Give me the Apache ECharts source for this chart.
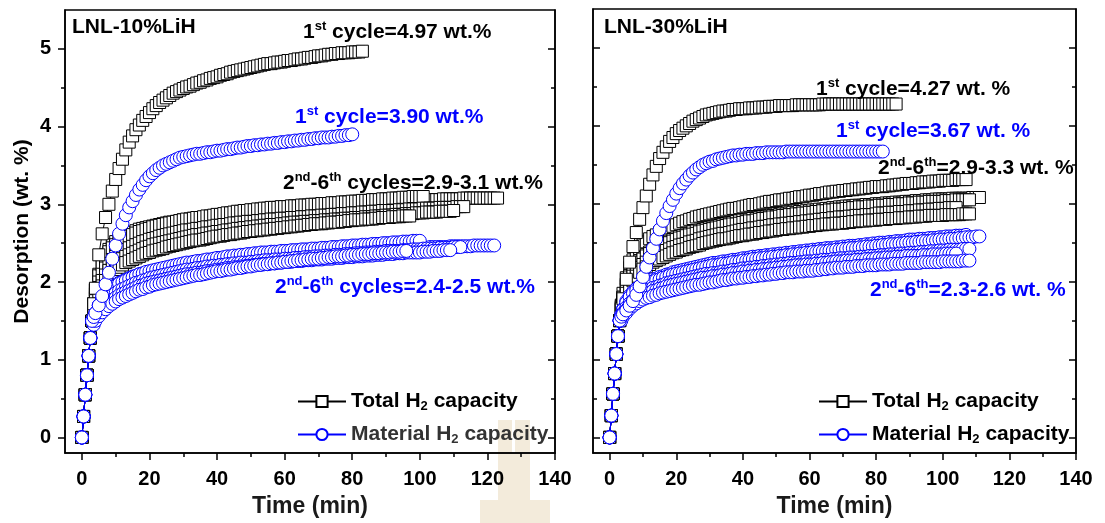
<!DOCTYPE html>
<html><head><meta charset="utf-8">
<script src="https://cdn.jsdelivr.net/npm/echarts@6/dist/echarts.min.js"></script>
<style>html,body{margin:0;padding:0;background:#fff}#c{width:1105px;height:523px}</style>
</head><body><div id="c"></div>
<script>
// sampling times (min): early part shared by all curves of a panel, then each curve's own values
const T_EARLY = [0,0.5,1,1.5,2,2.5,3];
const T_TAIL = [3.5,4,5,6,7,8,9,10,11,12,13,14,15,16,17,18,19,20,21,22,23,24,25,26,27,28,29,30,31,32,33,34,35,36,37,38,39,40,41,42,43,44,45,46,47,48,49,50,51,52,53,54,55,56,57,58,59,60,61,62,63,64,65,66,67,68,69,70,71,72,73,74,75,76,77,78,79,80,81,82,83,84,85,86,87,88,89,90,91,92,93,94,95,96,97,98,99,100,101,102,103,104,105,106,107,108,109,110,111,112,113,114,115,116,117,118,119,120,121,122];
const X_TICKS = [0,20,40,60,80,100,120,140];
const X_MINOR = [10,30,50,70,90,110,130];
const Y_TICKS = [0,1,2,3,4,5];
const Y_MINOR = [0.5,1.5,2.5,3.5,4.5];

// ---------- LNL-10%LiH ----------
const earlyL = [0,0.27,0.55,0.8,1.05,1.28,1.5];
const L_tot1 = [1.72,1.92,2.35,2.62,2.83,3.0,3.17,3.32,3.46,3.58,3.7,3.8,3.88,3.96,4.02,4.08,4.13,4.18,4.23,4.27,4.31,4.34,4.37,4.4,4.43,4.45,4.47,4.49,4.51,4.52,4.54,4.56,4.57,4.59,4.6,4.62,4.63,4.64,4.66,4.67,4.68,4.7,4.71,4.72,4.73,4.74,4.75,4.76,4.77,4.78,4.79,4.8,4.81,4.81,4.82,4.83,4.83,4.84,4.85,4.85,4.86,4.87,4.87,4.88,4.89,4.89,4.9,4.91,4.91,4.92,4.93,4.93,4.94,4.94,4.95,4.95,4.95,4.96,4.96,4.96];
const L_tot1_end = [83,4.97];
const L_mat1 = [1.55,1.6,1.7,1.82,1.97,2.12,2.3,2.47,2.62,2.75,2.86,2.96,3.04,3.12,3.19,3.25,3.31,3.36,3.4,3.44,3.47,3.5,3.52,3.54,3.56,3.58,3.6,3.61,3.62,3.63,3.64,3.65,3.65,3.66,3.67,3.67,3.68,3.69,3.69,3.7,3.71,3.71,3.72,3.73,3.73,3.74,3.75,3.75,3.76,3.76,3.77,3.77,3.78,3.78,3.79,3.79,3.8,3.8,3.81,3.81,3.82,3.82,3.83,3.83,3.84,3.84,3.85,3.85,3.86,3.86,3.86,3.87,3.87,3.88,3.88,3.89,3.89];
const L_mat1_end = [80,3.90];
const L_totA = [1.72,1.9,2.1,2.25,2.35,2.42,2.48,2.52,2.55,2.58,2.6,2.62,2.64,2.66,2.68,2.69,2.7,2.71,2.72,2.73,2.74,2.75,2.76,2.77,2.77,2.78,2.79,2.8,2.8,2.81,2.82,2.82,2.83,2.83,2.84,2.84,2.85,2.85,2.86,2.86,2.86,2.87,2.87,2.87,2.88,2.88,2.89,2.89,2.9,2.9,2.9,2.91,2.91,2.91,2.92,2.92,2.92,2.93,2.93,2.93,2.94,2.94,2.94,2.95,2.95,2.95,2.96,2.96,2.96,2.97,2.97,2.97,2.98,2.98,2.98,2.99,2.99,2.99,3.0,3.0,3.0,3.01,3.01,3.01,3.02,3.02,3.02,3.03,3.03,3.03,3.04,3.04,3.04,3.05,3.05,3.05,3.05,3.05,3.06,3.06,3.06,3.06,3.06,3.06,3.07,3.07,3.07,3.07,3.07,3.07,3.08,3.08,3.08,3.08,3.08,3.08,3.08,3.08,3.08,3.08];
const L_totA_end = [123,3.08];
const L_totB = [1.72,1.9,2.08,2.22,2.32,2.39,2.44,2.48,2.51,2.54,2.57,2.59,2.61,2.63,2.65,2.66,2.68,2.69,2.71,2.72,2.73,2.74,2.75,2.76,2.77,2.78,2.79,2.8,2.81,2.81,2.82,2.83,2.83,2.84,2.85,2.85,2.86,2.87,2.87,2.88,2.89,2.89,2.9,2.91,2.91,2.92,2.92,2.93,2.93,2.94,2.94,2.95,2.95,2.96,2.96,2.96,2.97,2.97,2.97,2.98,2.98,2.98,2.99,2.99,2.99,3.0,3.0,3.0,3.01,3.01,3.01,3.02,3.02,3.02,3.03,3.03,3.03,3.04,3.04,3.04,3.05,3.05,3.05,3.06,3.06,3.06,3.07,3.07,3.07,3.08,3.08,3.08,3.09,3.09,3.09,3.1,3.1,3.1];
const L_totB_end = [101,3.10];
const L_totC = [1.7,1.85,2.0,2.1,2.18,2.24,2.29,2.33,2.36,2.39,2.42,2.44,2.46,2.48,2.5,2.52,2.53,2.55,2.56,2.57,2.59,2.6,2.61,2.62,2.63,2.64,2.65,2.66,2.67,2.67,2.68,2.69,2.69,2.7,2.71,2.71,2.72,2.73,2.73,2.74,2.74,2.75,2.76,2.76,2.77,2.77,2.78,2.78,2.78,2.79,2.79,2.8,2.8,2.81,2.81,2.81,2.82,2.82,2.82,2.83,2.83,2.83,2.84,2.84,2.84,2.85,2.85,2.85,2.86,2.86,2.86,2.87,2.87,2.87,2.88,2.88,2.88,2.89,2.89,2.89,2.9,2.9,2.9,2.91,2.91,2.91,2.92,2.92,2.92,2.92,2.92,2.93,2.93,2.93,2.94,2.94,2.94,2.94,2.95,2.95,2.95,2.95,2.95,2.96,2.96,2.96,2.96,2.96,2.97,2.97];
const L_totC_end = [113,2.97];
const L_totD = [1.68,1.8,1.93,2.02,2.09,2.15,2.2,2.24,2.27,2.3,2.33,2.35,2.37,2.39,2.41,2.43,2.45,2.46,2.48,2.49,2.5,2.51,2.52,2.53,2.54,2.55,2.56,2.57,2.58,2.59,2.6,2.61,2.61,2.62,2.63,2.63,2.64,2.65,2.65,2.66,2.67,2.67,2.68,2.69,2.69,2.7,2.7,2.71,2.71,2.72,2.72,2.73,2.73,2.74,2.74,2.74,2.75,2.75,2.76,2.76,2.77,2.77,2.77,2.78,2.78,2.78,2.79,2.79,2.79,2.8,2.8,2.8,2.81,2.81,2.81,2.82,2.82,2.82,2.83,2.83,2.83,2.84,2.84,2.84,2.85,2.85,2.85,2.86,2.86,2.86,2.87,2.87,2.87,2.88,2.88,2.88,2.89,2.89,2.89,2.9,2.9,2.9,2.9,2.91,2.91,2.91,2.91];
const L_totD_end = [110,2.92];
const L_totE = [1.65,1.76,1.87,1.95,2.02,2.07,2.12,2.16,2.19,2.22,2.25,2.27,2.29,2.31,2.33,2.35,2.37,2.38,2.4,2.41,2.42,2.43,2.45,2.46,2.47,2.48,2.49,2.5,2.51,2.52,2.53,2.54,2.54,2.55,2.56,2.57,2.58,2.59,2.59,2.6,2.61,2.61,2.62,2.63,2.63,2.64,2.65,2.65,2.66,2.66,2.67,2.67,2.68,2.68,2.69,2.69,2.7,2.7,2.71,2.71,2.72,2.72,2.73,2.73,2.74,2.74,2.75,2.75,2.75,2.76,2.76,2.77,2.77,2.77,2.78,2.78,2.79,2.79,2.8,2.8,2.8,2.81,2.81,2.81,2.82,2.82,2.83,2.83,2.83,2.84,2.84,2.84,2.85,2.85];
const L_totE_end = [97,2.85];
const L_matA = [1.52,1.6,1.7,1.78,1.84,1.89,1.93,1.96,1.99,2.01,2.03,2.05,2.07,2.08,2.1,2.11,2.12,2.13,2.14,2.15,2.16,2.17,2.18,2.19,2.19,2.2,2.2,2.21,2.22,2.22,2.23,2.23,2.24,2.25,2.25,2.26,2.26,2.26,2.27,2.27,2.27,2.28,2.28,2.28,2.29,2.29,2.29,2.3,2.3,2.3,2.31,2.31,2.31,2.32,2.32,2.32,2.33,2.33,2.33,2.34,2.34,2.34,2.35,2.35,2.35,2.36,2.36,2.36,2.37,2.37,2.37,2.38,2.38,2.38,2.38,2.38,2.39,2.39,2.39,2.4,2.4,2.4,2.41,2.41,2.41,2.42,2.42,2.42,2.42,2.42,2.42,2.43,2.43,2.43,2.44,2.44,2.44,2.44,2.44,2.44,2.45,2.45,2.45,2.45,2.45,2.45,2.46,2.46,2.46,2.46,2.46,2.46,2.46,2.47,2.47,2.47,2.47,2.47,2.47];
const L_matA_end = [122,2.47];
const L_matB = [1.52,1.6,1.7,1.77,1.83,1.88,1.92,1.95,1.98,2.0,2.02,2.04,2.06,2.08,2.1,2.11,2.13,2.14,2.15,2.16,2.17,2.18,2.19,2.2,2.21,2.22,2.23,2.24,2.25,2.25,2.26,2.27,2.27,2.28,2.29,2.29,2.3,2.31,2.31,2.32,2.33,2.33,2.34,2.34,2.35,2.35,2.36,2.36,2.37,2.37,2.38,2.38,2.38,2.39,2.39,2.39,2.4,2.4,2.4,2.41,2.41,2.41,2.42,2.42,2.42,2.43,2.43,2.43,2.44,2.44,2.44,2.45,2.45,2.45,2.46,2.46,2.46,2.47,2.47,2.47,2.48,2.48,2.48,2.49,2.49,2.49,2.5,2.5,2.5,2.51,2.51,2.51,2.52,2.52,2.52,2.53,2.53];
const L_matB_end = [100,2.53];
const L_matC = [1.5,1.56,1.64,1.7,1.75,1.79,1.83,1.86,1.89,1.91,1.93,1.95,1.97,1.99,2.0,2.02,2.03,2.05,2.06,2.07,2.08,2.09,2.1,2.11,2.12,2.13,2.14,2.15,2.16,2.16,2.17,2.18,2.18,2.19,2.2,2.2,2.21,2.21,2.22,2.22,2.23,2.23,2.24,2.24,2.25,2.25,2.25,2.26,2.26,2.27,2.27,2.28,2.28,2.28,2.29,2.29,2.29,2.3,2.3,2.3,2.31,2.31,2.31,2.32,2.32,2.32,2.33,2.33,2.33,2.34,2.34,2.34,2.35,2.35,2.35,2.36,2.36,2.36,2.37,2.37,2.37,2.38,2.38,2.38,2.39,2.39,2.39,2.4,2.4,2.4,2.4,2.4,2.41,2.41,2.41,2.42,2.42,2.42,2.43,2.43,2.43,2.43,2.43,2.44,2.44,2.44,2.44,2.45,2.45];
const L_matC_end = [112,2.45];
const L_matD = [1.48,1.53,1.6,1.65,1.7,1.74,1.77,1.8,1.83,1.85,1.87,1.89,1.91,1.93,1.95,1.96,1.98,1.99,2.0,2.01,2.02,2.03,2.04,2.05,2.06,2.07,2.08,2.09,2.1,2.1,2.11,2.12,2.12,2.13,2.14,2.14,2.15,2.16,2.16,2.17,2.18,2.18,2.19,2.19,2.2,2.2,2.21,2.21,2.22,2.22,2.23,2.23,2.23,2.24,2.24,2.25,2.25,2.26,2.26,2.26,2.27,2.27,2.27,2.28,2.28,2.28,2.29,2.29,2.29,2.3,2.3,2.3,2.31,2.31,2.31,2.32,2.32,2.32,2.33,2.33,2.33,2.34,2.34,2.34,2.35,2.35,2.35,2.36,2.36,2.36,2.37,2.37,2.37,2.38,2.38,2.38,2.38,2.38,2.39,2.39,2.39,2.4,2.4,2.4,2.41,2.41];
const L_matD_end = [109,2.41];
const L_matE = [1.45,1.5,1.56,1.61,1.65,1.69,1.72,1.75,1.78,1.8,1.82,1.84,1.86,1.88,1.9,1.91,1.93,1.94,1.96,1.97,1.98,1.99,2.0,2.01,2.02,2.03,2.04,2.05,2.06,2.07,2.08,2.09,2.09,2.1,2.11,2.12,2.13,2.14,2.14,2.15,2.16,2.16,2.17,2.18,2.18,2.19,2.2,2.2,2.21,2.22,2.22,2.23,2.23,2.24,2.24,2.25,2.25,2.26,2.26,2.27,2.27,2.28,2.28,2.29,2.29,2.3,2.3,2.3,2.31,2.31,2.32,2.32,2.33,2.33,2.33,2.34,2.34,2.35,2.35,2.35,2.36,2.36,2.36,2.37,2.37,2.37,2.38,2.38,2.38,2.39,2.39,2.39,2.4];
const L_matE_end = [96,2.40];

// ---------- LNL-30%LiH ----------
const earlyR = [0,0.28,0.56,0.82,1.07,1.3,1.5];
const R_tot1 = [1.65,1.78,2.03,2.25,2.45,2.63,2.8,2.95,3.1,3.25,3.37,3.48,3.58,3.66,3.73,3.8,3.85,3.9,3.94,3.97,4.0,4.03,4.06,4.08,4.1,4.12,4.14,4.15,4.16,4.17,4.18,4.19,4.19,4.2,4.21,4.21,4.22,4.22,4.22,4.23,4.23,4.23,4.24,4.24,4.24,4.25,4.25,4.25,4.26,4.26,4.26,4.26,4.26,4.27,4.27,4.27,4.27,4.27,4.27,4.27,4.27,4.28,4.28,4.28,4.28,4.28,4.28,4.28,4.28,4.28,4.28,4.28,4.28,4.28,4.28,4.28,4.28,4.28,4.28,4.28,4.28,4.28,4.28];
const R_tot1_end = [86,4.28];
const R_mat1 = [1.55,1.58,1.63,1.69,1.75,1.83,1.94,2.06,2.19,2.31,2.43,2.55,2.67,2.78,2.88,2.97,3.05,3.13,3.2,3.26,3.31,3.36,3.4,3.44,3.47,3.5,3.52,3.54,3.55,3.57,3.58,3.59,3.6,3.61,3.62,3.62,3.63,3.63,3.64,3.64,3.64,3.65,3.65,3.65,3.66,3.66,3.66,3.66,3.66,3.66,3.67,3.67,3.67,3.67,3.67,3.67,3.67,3.67,3.67,3.67,3.67,3.67,3.67,3.67,3.67,3.67,3.67,3.67,3.67,3.67,3.67,3.67,3.67,3.67,3.67,3.67,3.67,3.67,3.67];
const R_mat1_end = [82,3.67];
const R_totP = [1.7,1.85,2.05,2.18,2.28,2.36,2.42,2.47,2.51,2.55,2.58,2.6,2.63,2.65,2.67,2.69,2.71,2.73,2.75,2.77,2.78,2.8,2.81,2.83,2.84,2.85,2.86,2.87,2.88,2.89,2.9,2.91,2.92,2.93,2.94,2.94,2.95,2.96,2.97,2.98,2.99,2.99,3.0,3.01,3.02,3.03,3.03,3.04,3.05,3.05,3.06,3.07,3.07,3.08,3.09,3.09,3.1,3.11,3.11,3.12,3.13,3.13,3.14,3.15,3.15,3.16,3.16,3.17,3.17,3.18,3.18,3.19,3.19,3.2,3.2,3.21,3.21,3.22,3.22,3.22,3.23,3.23,3.24,3.24,3.25,3.25,3.26,3.26,3.26,3.27,3.27,3.28,3.28,3.28,3.29,3.29,3.29,3.3,3.3,3.3,3.3,3.31,3.31,3.31];
const R_totP_end = [107,3.31];
const R_totQ = [1.68,1.8,1.97,2.08,2.16,2.22,2.27,2.31,2.35,2.38,2.41,2.43,2.46,2.48,2.5,2.52,2.54,2.56,2.58,2.59,2.61,2.62,2.64,2.65,2.66,2.67,2.68,2.69,2.7,2.71,2.72,2.73,2.74,2.75,2.76,2.77,2.78,2.79,2.79,2.8,2.81,2.81,2.82,2.83,2.83,2.84,2.85,2.85,2.86,2.87,2.87,2.88,2.89,2.89,2.9,2.9,2.91,2.91,2.92,2.92,2.93,2.93,2.94,2.94,2.95,2.95,2.96,2.96,2.97,2.97,2.97,2.98,2.98,2.98,2.99,2.99,2.99,3.0,3.0,3.0,3.01,3.01,3.01,3.02,3.02,3.02,3.03,3.03,3.03,3.04,3.04,3.04,3.05,3.05,3.05,3.06,3.06,3.06,3.06,3.06,3.07,3.07,3.07,3.07,3.07,3.07,3.08,3.08];
const R_totQ_end = [111,3.08];
const R_totR = [1.68,1.8,1.95,2.06,2.14,2.2,2.25,2.29,2.33,2.36,2.39,2.41,2.44,2.46,2.48,2.5,2.52,2.54,2.56,2.57,2.59,2.6,2.61,2.62,2.64,2.65,2.66,2.67,2.68,2.69,2.7,2.71,2.72,2.73,2.74,2.74,2.75,2.76,2.77,2.78,2.78,2.79,2.8,2.81,2.81,2.82,2.83,2.83,2.84,2.85,2.85,2.86,2.86,2.87,2.87,2.88,2.88,2.89,2.89,2.9,2.9,2.91,2.91,2.92,2.92,2.93,2.93,2.93,2.94,2.94,2.95,2.95,2.96,2.96,2.96,2.97,2.97,2.97,2.98,2.98,2.98,2.99,2.99,2.99,3.0,3.0,3.0,3.01,3.01,3.01,3.02,3.02,3.02,3.03,3.03,3.03,3.03,3.03,3.04,3.04,3.04,3.05,3.05,3.05,3.05];
const R_totR_end = [108,3.05];
const R_totS = [1.66,1.76,1.9,2.0,2.07,2.13,2.18,2.22,2.25,2.28,2.31,2.33,2.36,2.38,2.4,2.42,2.44,2.45,2.47,2.48,2.49,2.51,2.52,2.53,2.55,2.56,2.57,2.58,2.59,2.6,2.61,2.62,2.62,2.63,2.64,2.65,2.66,2.67,2.67,2.68,2.69,2.69,2.7,2.71,2.71,2.72,2.73,2.73,2.74,2.74,2.75,2.75,2.76,2.76,2.77,2.77,2.78,2.78,2.79,2.79,2.8,2.8,2.81,2.81,2.82,2.82,2.83,2.83,2.83,2.84,2.84,2.85,2.85,2.85,2.86,2.86,2.86,2.87,2.88,2.88,2.88,2.89,2.89,2.89,2.9,2.9,2.9,2.91,2.91,2.91,2.92,2.92,2.92,2.93,2.93,2.93,2.94,2.94,2.94,2.95,2.95];
const R_totS_end = [104,2.95];
const R_totT = [1.64,1.73,1.85,1.94,2.01,2.07,2.12,2.16,2.19,2.22,2.25,2.27,2.29,2.31,2.33,2.35,2.37,2.38,2.4,2.41,2.42,2.44,2.45,2.46,2.47,2.49,2.5,2.51,2.52,2.53,2.54,2.55,2.55,2.56,2.57,2.58,2.59,2.59,2.6,2.61,2.61,2.62,2.63,2.63,2.64,2.65,2.65,2.66,2.67,2.67,2.68,2.68,2.69,2.69,2.7,2.7,2.71,2.71,2.72,2.72,2.73,2.73,2.74,2.74,2.74,2.75,2.75,2.75,2.76,2.76,2.77,2.77,2.78,2.78,2.78,2.79,2.79,2.79,2.8,2.8,2.8,2.81,2.81,2.81,2.82,2.82,2.82,2.83,2.83,2.83,2.84,2.84,2.84,2.85,2.85,2.85,2.85,2.85,2.86,2.86,2.86,2.86,2.86,2.87,2.87];
const R_totT_end = [108,2.87];
const R_matP = [1.58,1.65,1.75,1.82,1.87,1.91,1.94,1.97,1.99,2.01,2.03,2.04,2.06,2.07,2.09,2.1,2.12,2.13,2.14,2.15,2.16,2.17,2.18,2.19,2.2,2.21,2.22,2.23,2.24,2.24,2.25,2.26,2.26,2.27,2.28,2.28,2.29,2.3,2.3,2.31,2.32,2.32,2.33,2.33,2.34,2.34,2.35,2.35,2.36,2.36,2.37,2.37,2.38,2.38,2.39,2.39,2.4,2.4,2.41,2.41,2.42,2.42,2.43,2.43,2.43,2.44,2.44,2.45,2.45,2.46,2.46,2.46,2.47,2.47,2.48,2.48,2.49,2.49,2.5,2.5,2.5,2.51,2.51,2.52,2.52,2.52,2.53,2.54,2.54,2.54,2.55,2.55,2.55,2.56,2.56,2.56,2.57,2.57,2.58,2.58,2.58,2.59,2.59,2.59];
const R_matP_end = [107,2.60];
const R_matQ = [1.57,1.64,1.73,1.8,1.85,1.89,1.92,1.95,1.97,1.99,2.0,2.02,2.03,2.05,2.06,2.08,2.09,2.1,2.11,2.12,2.13,2.14,2.15,2.16,2.17,2.18,2.19,2.2,2.21,2.21,2.22,2.23,2.23,2.24,2.25,2.25,2.26,2.27,2.27,2.28,2.29,2.29,2.3,2.3,2.31,2.31,2.32,2.32,2.33,2.33,2.34,2.34,2.35,2.35,2.36,2.36,2.37,2.37,2.38,2.38,2.39,2.39,2.39,2.4,2.4,2.41,2.41,2.42,2.42,2.43,2.43,2.43,2.44,2.44,2.45,2.45,2.45,2.46,2.46,2.47,2.47,2.48,2.48,2.48,2.49,2.49,2.5,2.5,2.5,2.51,2.51,2.52,2.52,2.52,2.53,2.53,2.54,2.54,2.54,2.55,2.55,2.55,2.56,2.56,2.57,2.57,2.57,2.58];
const R_matQ_end = [111,2.58];
const R_matR = [1.55,1.6,1.67,1.72,1.76,1.8,1.83,1.86,1.88,1.9,1.92,1.93,1.95,1.96,1.98,1.99,2.0,2.01,2.02,2.03,2.04,2.05,2.06,2.07,2.08,2.09,2.1,2.1,2.11,2.11,2.12,2.13,2.13,2.14,2.15,2.15,2.16,2.17,2.17,2.18,2.18,2.19,2.19,2.2,2.2,2.21,2.21,2.22,2.22,2.23,2.23,2.24,2.24,2.24,2.25,2.25,2.26,2.26,2.26,2.27,2.27,2.28,2.28,2.28,2.29,2.29,2.3,2.3,2.3,2.31,2.31,2.31,2.32,2.32,2.32,2.33,2.33,2.33,2.34,2.34,2.34,2.35,2.35,2.35,2.36,2.36,2.36,2.37,2.37,2.37,2.38,2.38,2.38,2.39,2.39,2.39,2.4,2.4,2.4,2.41,2.41,2.41,2.41,2.42,2.42];
const R_matR_end = [108,2.42];
const R_matS = [1.53,1.58,1.64,1.69,1.73,1.76,1.79,1.82,1.84,1.86,1.88,1.89,1.91,1.92,1.94,1.95,1.96,1.97,1.98,1.99,2.0,2.01,2.02,2.03,2.04,2.05,2.05,2.06,2.07,2.07,2.08,2.09,2.09,2.1,2.11,2.11,2.12,2.13,2.13,2.14,2.14,2.15,2.15,2.16,2.16,2.17,2.17,2.18,2.18,2.19,2.19,2.2,2.2,2.21,2.21,2.21,2.22,2.22,2.22,2.23,2.23,2.24,2.24,2.25,2.25,2.26,2.26,2.26,2.27,2.27,2.27,2.28,2.28,2.28,2.29,2.29,2.29,2.3,2.3,2.3,2.31,2.31,2.31,2.32,2.32,2.32,2.33,2.33,2.33,2.33,2.33,2.34,2.34,2.34,2.35,2.35,2.35,2.35,2.36,2.36,2.36];
const R_matS_end = [104,2.36];
const R_matT = [1.5,1.55,1.6,1.65,1.69,1.72,1.75,1.77,1.79,1.8,1.82,1.83,1.85,1.86,1.87,1.88,1.89,1.9,1.91,1.92,1.93,1.94,1.95,1.96,1.96,1.97,1.98,1.99,1.99,2.0,2.01,2.02,2.02,2.03,2.04,2.04,2.05,2.05,2.06,2.06,2.07,2.07,2.08,2.08,2.09,2.09,2.1,2.1,2.11,2.11,2.12,2.12,2.12,2.13,2.13,2.13,2.14,2.14,2.14,2.15,2.15,2.16,2.16,2.17,2.17,2.18,2.18,2.18,2.19,2.19,2.19,2.2,2.2,2.2,2.21,2.21,2.21,2.21,2.22,2.22,2.22,2.22,2.23,2.23,2.23,2.23,2.24,2.24,2.24,2.24,2.24,2.25,2.25,2.25,2.25,2.25,2.25,2.26,2.26,2.26,2.26,2.26,2.26,2.27,2.27];
const R_matT_end = [108,2.27];

const TOTAL = 'Total H2 capacity';
const MATERIAL = 'Material H2 capacity';
const FONT = '"Liberation Sans", Arial, sans-serif';

function pts(early, vals, end) {
  const d = early.map((v, i) => [T_EARLY[i], v]);
  vals.forEach((v, i) => { if (T_TAIL[i] < end[0]) d.push([T_TAIL[i], v]); });
  d.push(end);
  return d;
}
function mk(kind, panel, early, vals, end) {
  const tot = kind === 'tot';
  return {
    type: 'line', name: tot ? TOTAL : MATERIAL,
    xAxisIndex: panel * 2, yAxisIndex: panel * 4,
    data: pts(early, vals, end),
    symbol: tot ? 'rect' : 'circle', symbolSize: tot ? 12 : 13,
    showSymbol: true, showAllSymbol: true, clip: false,
    itemStyle: { color: '#fff', borderColor: tot ? '#000' : '#0000ff', borderWidth: 1 },
    lineStyle: { color: tot ? '#000' : '#0000ff', width: 1 },
    emphasis: { disabled: true }, silent: true, z: tot ? 2 : 3
  };
}
const series = [
  mk('tot',0,earlyL,L_totA,L_totA_end), mk('tot',0,earlyL,L_totB,L_totB_end),
  mk('tot',0,earlyL,L_totC,L_totC_end), mk('tot',0,earlyL,L_totD,L_totD_end),
  mk('tot',0,earlyL,L_totE,L_totE_end), mk('tot',0,earlyL,L_tot1,L_tot1_end),
  mk('mat',0,earlyL,L_matA,L_matA_end), mk('mat',0,earlyL,L_matB,L_matB_end),
  mk('mat',0,earlyL,L_matC,L_matC_end), mk('mat',0,earlyL,L_matD,L_matD_end),
  mk('mat',0,earlyL,L_matE,L_matE_end), mk('mat',0,earlyL,L_mat1,L_mat1_end),
  mk('tot',1,earlyR,R_totP,R_totP_end), mk('tot',1,earlyR,R_totQ,R_totQ_end),
  mk('tot',1,earlyR,R_totR,R_totR_end), mk('tot',1,earlyR,R_totS,R_totS_end),
  mk('tot',1,earlyR,R_totT,R_totT_end), mk('tot',1,earlyR,R_tot1,R_tot1_end),
  mk('mat',1,earlyR,R_matP,R_matP_end), mk('mat',1,earlyR,R_matQ,R_matQ_end),
  mk('mat',1,earlyR,R_matR,R_matR_end), mk('mat',1,earlyR,R_matS,R_matS_end),
  mk('mat',1,earlyR,R_matT,R_matT_end), mk('mat',1,earlyR,R_mat1,R_mat1_end)
];

const AX = { color: '#000', width: 1.5 };
function xAxes(g) {
  return [
    { gridIndex: g, type: 'value', min: -5, max: 140, position: 'bottom',
      axisLine: { show: true, onZero: false, lineStyle: AX },
      axisTick: { show: true, inside: false, length: 7, lineStyle: AX, customValues: X_TICKS },
      axisLabel: { show: true, customValues: X_TICKS, margin: 16, fontSize: 20, fontWeight: 'bold', color: '#000', fontFamily: FONT },
      splitLine: { show: false },
      name: 'Time (min)', nameLocation: 'middle', nameGap: 42,
      nameTextStyle: { fontSize: 23, fontWeight: 'bold', color: '#1a1a1a', fontFamily: FONT } },
    { gridIndex: g, type: 'value', min: -5, max: 140, position: 'bottom',
      axisLine: { show: false, onZero: false }, splitLine: { show: false }, axisLabel: { show: false },
      axisTick: { show: true, inside: false, length: 4, lineStyle: AX, customValues: X_MINOR } }
  ];
}
function yAxes(g, labels, inside) {
  const base = { gridIndex: g, type: 'value', min: -0.2, max: 5.5, splitLine: { show: false } };
  const a = [
    Object.assign({}, base, { position: 'left',
      axisLine: { show: true, onZero: false, lineStyle: AX },
      axisTick: { show: true, inside: inside, length: 7, lineStyle: AX, customValues: Y_TICKS },
      axisLabel: { show: labels, customValues: Y_TICKS, margin: 14, fontSize: 20, fontWeight: 'bold', color: '#000', fontFamily: FONT } }),
    Object.assign({}, base, { position: 'left', axisLine: { show: false, onZero: false }, axisLabel: { show: false },
      axisTick: { show: true, inside: inside, length: 4, lineStyle: AX, customValues: Y_MINOR } }),
    Object.assign({}, base, { position: 'right', axisLine: { show: true, onZero: false, lineStyle: AX }, axisLabel: { show: false },
      axisTick: { show: true, inside: true, length: 7, lineStyle: AX, customValues: Y_TICKS } }),
    Object.assign({}, base, { position: 'right', axisLine: { show: false, onZero: false }, axisLabel: { show: false },
      axisTick: { show: true, inside: true, length: 4, lineStyle: AX, customValues: Y_MINOR } })
  ];
  if (labels) {
    Object.assign(a[0], { name: 'Desorption (wt. %)', nameLocation: 'middle', nameGap: 32, nameRotate: 90,
      nameTextStyle: { fontSize: 21, fontWeight: 'bold', color: '#000', fontFamily: FONT } });
  }
  return a;
}

function txt(x, y, text, color) {
  return { type: 'text', x: x, y: y, silent: true, z: 50,
    style: { text: text, fill: color, font: 'bold 21px ' + FONT, verticalAlign: 'middle', align: 'left',
      rich: { sup: { fill: color, fontSize: 13, fontWeight: 'bold', fontFamily: FONT, padding: [0, 0, 11, 0] } } } };
}
function legend(left, matColor) {
  return { data: [TOTAL, { name: MATERIAL, textStyle: { color: matColor } }],
    orient: 'vertical', left: left, top: 391, padding: 0,
    itemWidth: 48, itemHeight: 14, itemGap: 11, selectedMode: false,
    formatter: n => n.replace('H2', 'H{sub|2}'),
    textStyle: { fontSize: 21, fontWeight: 'bold', color: '#000', fontFamily: FONT,
      rich: { sub: { fontSize: 13, fontWeight: 'bold', fontFamily: FONT, padding: [10, 0, 0, 0] } } } };
}
const WM = '#f3ebdb';

const option = {
  animation: false,
  backgroundColor: '#fff',
  grid: [
    { left: 65, top: 10, width: 490, height: 447, show: true, borderColor: '#000', borderWidth: 1.5, containLabel: false },
    { left: 593, top: 9, width: 483, height: 445, show: true, borderColor: '#000', borderWidth: 1.5, containLabel: false }
  ],
  xAxis: xAxes(0).concat(xAxes(1)),
  yAxis: yAxes(0, true, false).concat(yAxes(1, false, true)),
  legend: [legend(297, '#333'), legend(818, '#000')],
  series: series,
  graphic: [
    { type: 'rect', silent: true, z: -10, shape: { x: 498, y: 420, width: 32, height: 103 }, style: { fill: WM } },
    { type: 'rect', silent: true, z: -9, shape: { x: 512, y: 420, width: 3, height: 33 }, style: { fill: '#fff' } },
    { type: 'rect', silent: true, z: -10, shape: { x: 480, y: 500, width: 70, height: 23 }, style: { fill: WM } },
    txt(72, 27, 'LNL-10%LiH', '#000'),
    txt(303, 32, '1{sup|st} cycle=4.97 wt.%', '#000'),
    txt(295, 117, '1{sup|st} cycle=3.90 wt.%', '#0000ff'),
    txt(283, 183, '2{sup|nd}-6{sup|th} cycles=2.9-3.1 wt.%', '#000'),
    txt(275, 287, '2{sup|nd}-6{sup|th} cycles=2.4-2.5 wt.%', '#0000ff'),
    txt(604, 27, 'LNL-30%LiH', '#000'),
    txt(816, 89, '1{sup|st} cycle=4.27 wt. %', '#000'),
    txt(836, 131, '1{sup|st} cycle=3.67 wt. %', '#0000ff'),
    txt(878, 168, '2{sup|nd}-6{sup|th}=2.9-3.3 wt. %', '#000'),
    txt(870, 290, '2{sup|nd}-6{sup|th}=2.3-2.6 wt. %', '#0000ff')
  ]
};
const chart = echarts.init(document.getElementById('c'), null, { renderer: 'canvas' });
chart.setOption(option);
</script></body></html>
